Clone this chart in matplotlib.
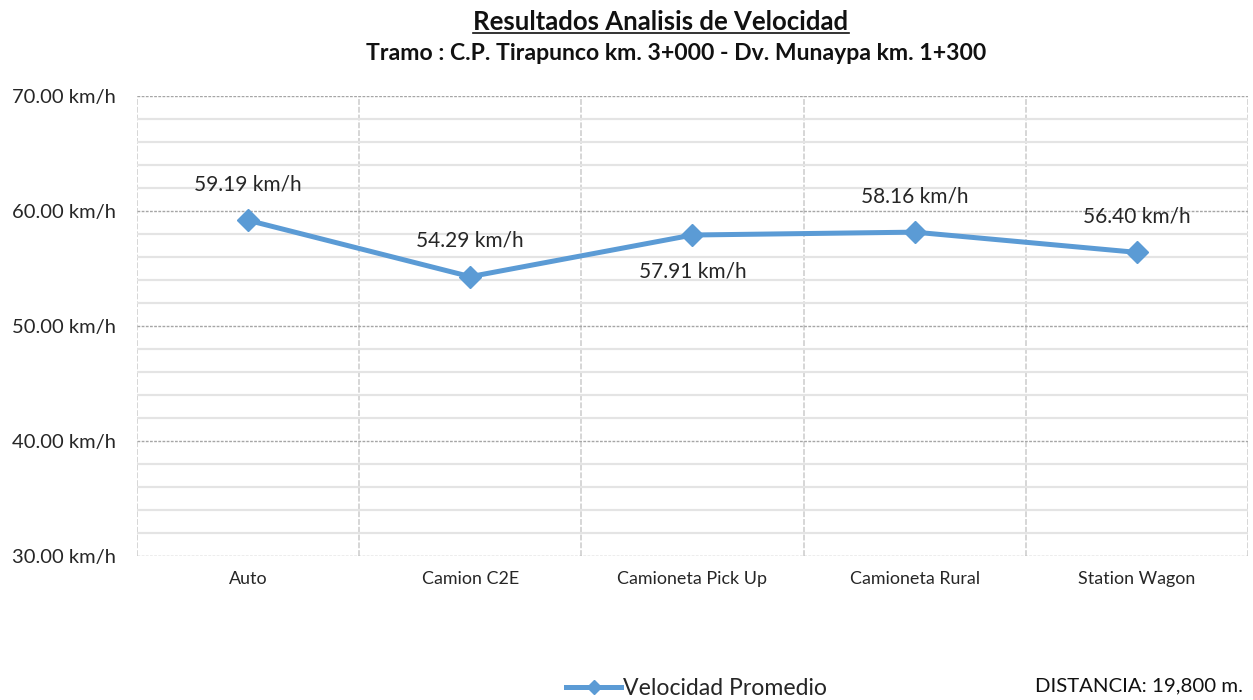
import matplotlib
matplotlib.use("Agg")
import matplotlib.pyplot as plt
from matplotlib.ticker import MultipleLocator, FuncFormatter
from matplotlib.lines import Line2D

plt.rcParams['font.family'] = ['Lato', 'DejaVu Sans']

# data
categorias = ['Auto', 'Camion C2E', 'Camioneta Pick Up', 'Camioneta Rural', 'Station Wagon']
velocidad = [59.19, 54.29, 57.91, 58.16, 56.40]
# label above (+) or below (-) the point
posicion_etiqueta = [1, 1, -1, 1, 1]

titulo = 'Resultados Analisis de Velocidad'
subtitulo = 'Tramo : C.P. Tirapunco km. 3+000 - Dv. Munaypa km. 1+300'
serie = 'Velocidad Promedio'
distancia = 'DISTANCIA: 19,800 m.'

azul = '#5B9BD5'

fig = plt.figure(figsize=(12.53, 7.0), dpi=100)
ax = fig.add_axes([0.1093, 0.2057, 0.8867, 0.6572])

x = list(range(len(categorias)))
ax.plot(x, velocidad, '-', color=azul, linewidth=3.6, marker='D', markersize=11,
        markeredgecolor=azul, markerfacecolor=azul, zorder=3, label=serie)

for xi, v, p in zip(x, velocidad, posicion_etiqueta):
    ax.annotate(f'{v:.2f} km/h', (xi, v), xytext=(0, 26 * p), textcoords='offset points',
                ha='center', va='center', fontsize=15, color='#262626')

ax.set_xlim(-0.5, len(categorias) - 0.5)
ax.set_ylim(30, 70)

# gridlines: light minor every 2, dotted major every 10
ax.yaxis.set_major_locator(MultipleLocator(10))
ax.yaxis.set_minor_locator(MultipleLocator(2))
ax.yaxis.set_major_formatter(FuncFormatter(lambda v, _: f'{v:.2f} km/h'))
ax.grid(axis='y', which='minor', color='#e4e4e4', linewidth=1.6, linestyle='-', zorder=0)
ax.grid(axis='y', which='major', color='#a6a6a6', linewidth=1.0, linestyle=(0, (2, 1)), zorder=1)
for b in range(len(categorias) + 1):
    ax.axvline(b - 0.5, color='#d6d6d6', linewidth=1.4, linestyle=(0, (3, 1)), zorder=0)

for s in ax.spines.values():
    s.set_visible(False)

ax.set_xticks(x)
ax.set_xticklabels(categorias, fontsize=12.9, color='#262626')
ax.tick_params(axis='x', length=0, pad=11)
ax.tick_params(axis='y', which='both', length=0, pad=15, labelsize=14.5, labelcolor='#262626')

# titles
t1 = fig.text(0.5275, 0.968, titulo, ha='center', va='center', fontsize=18.5,
              fontweight='bold', color='#111111')
fig.text(0.5395, 0.924, subtitulo, ha='center', va='center', fontsize=16.6,
         fontweight='bold', color='#111111')

# underline under the main title
fig.canvas.draw()
bb = t1.get_window_extent().transformed(fig.transFigure.inverted())
fig.add_artist(Line2D([bb.x0, bb.x1], [bb.y0 + 0.002, bb.y0 + 0.002],
                      transform=fig.transFigure, color='#111111', linewidth=1.2))

leg = fig.legend(handles=[Line2D([], [], color=azul, linewidth=3.6, marker='D',
                                 markersize=7, label=serie)],
                 loc='center', bbox_to_anchor=(0.556, 0.017), frameon=False,
                 fontsize=16.6, handlelength=2.4, handletextpad=0.1)
for t in leg.get_texts():
    t.set_color('#262626')

fig.text(0.992, 0.020, distancia, ha='right', va='center', fontsize=14.7, color='#111111')

fig.savefig('out.png', dpi=100)
